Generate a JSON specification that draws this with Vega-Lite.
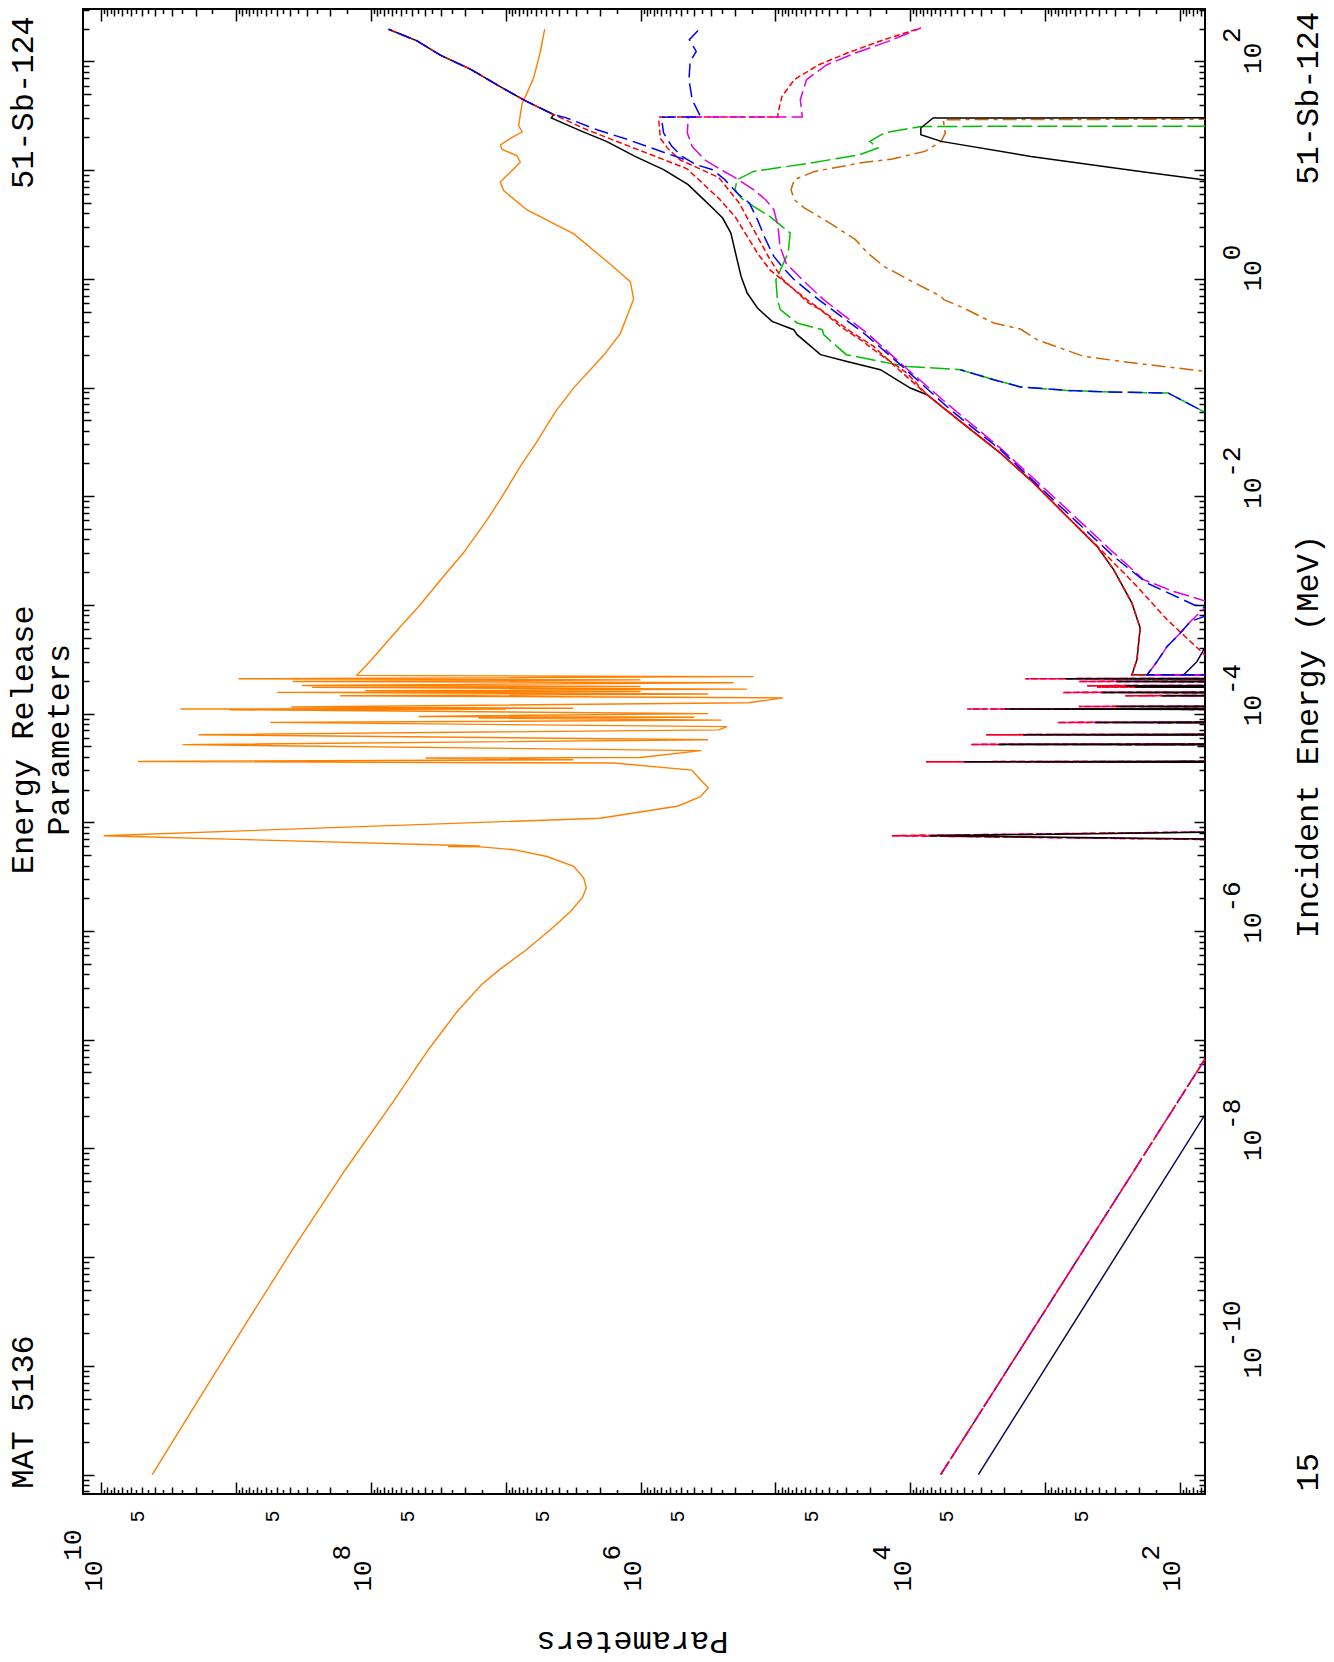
{
"$schema": "https://vega.github.io/schema/vega-lite/v6.json",
"width": 1122,
"height": 1485,
"autosize": "none",
"padding": {"left": 83, "top": 9, "right": 129, "bottom": 168},
"background": "white",
"config": {
 "view": {"stroke": "black", "strokeWidth": 2},
 "axis": {"labelFont": "Liberation Mono", "titleFont": "Liberation Mono", "labelColor": "black", "titleColor": "black", "tickColor": "black", "tickWidth": 1.5, "grid": false, "domain": false, "labelOverlap": false, "labelFlush": false, "labelBound": false, "labelLimit": 1000, "titleFontWeight": "normal", "labelFontWeight": "normal"}
},
"data": {"values": [
{"s":"o1","c":"orange","E":1e-11,"P":4.19e9},
{"s":"o1","c":"orange","E":4.88e-11,"P":1.90e9},
{"s":"o1","c":"orange","E":2.655e-10,"P":8.11e8},
{"s":"o1","c":"orange","E":1.22e-9,"P":3.74e8},
{"s":"o1","c":"orange","E":6.368e-9,"P":1.549e8},
{"s":"o1","c":"orange","E":2.72e-8,"P":6.79e7},
{"s":"o1","c":"orange","E":8.091e-8,"P":3.75e7},
{"s":"o1","c":"orange","E":1.81e-7,"P":2.30e7},
{"s":"o1","c":"orange","E":3.206e-7,"P":1.517e7},
{"s":"o1","c":"orange","E":4.46e-7,"P":1.10e7},
{"s":"o1","c":"orange","E":6.73e-7,"P":7.031e6},
{"s":"o1","c":"orange","E":1.028e-6,"P":4.667e6},
{"s":"o1","c":"orange","E":1.507e-6,"P":3.319e6},
{"s":"o1","c":"orange","E":2.023e-6,"P":2.704e6},
{"s":"o1","c":"orange","E":2.50e-6,"P":2.523e6},
{"s":"o1","c":"orange","E":3.07e-6,"P":2.64e6},
{"s":"o1","c":"orange","E":3.93e-6,"P":3.13e6},
{"s":"o1","c":"orange","E":4.85e-6,"P":4.94e6},
{"s":"o1","c":"orange","E":5.60e-6,"P":8.73e6},
{"s":"o1","c":"orange","E":5.94e-6,"P":1.54e7},
{"s":"o1","c":"orange","E":6.00e-6,"P":2.68e7},
{"s":"o1","c":"orange","E":6.05e-6,"P":1.55e7},
{"s":"o1","c":"orange","E":7.53e-6,"P":9.62e9},
{"s":"o1","c":"orange","E":1.09e-5,"P":1.99e6},
{"s":"o1","c":"orange","E":1.413e-5,"P":5.25e5},
{"s":"o1","c":"orange","E":1.72e-5,"P":3.60e5},
{"s":"o1","c":"orange","E":2.08e-5,"P":3.14e5},
{"s":"o1","c":"orange","E":2.46e-5,"P":3.60e5},
{"s":"o1","c":"orange","E":3.02e-5,"P":4.17e5},
{"s":"o1","c":"orange","E":3.51e-5,"P":1.58e6},
{"s":"o1","c":"orange","E":3.63e-5,"P":5.35e9},
{"s":"o1","c":"orange","E":3.76e-5,"P":3.16e6},
{"s":"o1","c":"orange","E":3.90e-5,"P":3.94e7},
{"s":"o1","c":"orange","E":3.95e-5,"P":1.00e6},
{"s":"o1","c":"orange","E":4.57e-5,"P":3.55e5},
{"s":"o1","c":"orange","E":5.18e-5,"P":2.49e9},
{"s":"o1","c":"orange","E":5.75e-5,"P":3.16e5},
{"s":"o1","c":"orange","E":6.40e-5,"P":1.90e9},
{"s":"o1","c":"orange","E":7.08e-5,"P":2.63e5},
{"s":"o1","c":"orange","E":7.59e-5,"P":2.29e5},
{"s":"o1","c":"orange","E":8.30e-5,"P":5.57e8},
{"s":"o1","c":"orange","E":8.71e-5,"P":2.51e5},
{"s":"o1","c":"orange","E":9.12e-5,"P":1.59e7},
{"s":"o1","c":"orange","E":9.27e-5,"P":3.98e5},
{"s":"o1","c":"orange","E":9.42e-5,"P":4.43e7},
{"s":"o1","c":"orange","E":1.000e-4,"P":3.16e5},
{"s":"o1","c":"orange","E":1.086e-4,"P":1.12e9},
{"s":"o1","c":"orange","E":1.094e-4,"P":1.00e7},
{"s":"o1","c":"orange","E":1.102e-4,"P":2.59e9},
{"s":"o1","c":"orange","E":1.122e-4,"P":3.16e6},
{"s":"o1","c":"orange","E":1.151e-4,"P":3.90e8},
{"s":"o1","c":"orange","E":1.259e-4,"P":1.58e5},
{"s":"o1","c":"orange","E":1.396e-4,"P":8.77e4},
{"s":"o1","c":"orange","E":1.462e-4,"P":1.69e8},
{"s":"o1","c":"orange","E":1.514e-4,"P":3.16e5},
{"s":"o1","c":"orange","E":1.567e-4,"P":4.98e8},
{"s":"o1","c":"orange","E":1.596e-4,"P":1.00e6},
{"s":"o1","c":"orange","E":1.626e-4,"P":1.10e8},
{"s":"o1","c":"orange","E":1.679e-4,"P":1.62e5},
{"s":"o1","c":"orange","E":1.742e-4,"P":2.74e8},
{"s":"o1","c":"orange","E":1.778e-4,"P":1.00e6},
{"s":"o1","c":"orange","E":1.816e-4,"P":3.24e8},
{"s":"o1","c":"orange","E":1.923e-4,"P":2.04e5},
{"s":"o1","c":"orange","E":1.977e-4,"P":3.81e8},
{"s":"o1","c":"orange","E":2.042e-4,"P":1.00e6},
{"s":"o1","c":"orange","E":2.094e-4,"P":9.57e8},
{"s":"o1","c":"orange","E":2.188e-4,"P":1.45e5},
{"s":"o1","c":"orange","E":2.249e-4,"P":1.27e8},
{"s":"o1","c":"orange","E":3.05e-4,"P":1.01e8},
{"s":"o1","c":"orange","E":6.07e-4,"P":6.22e7},
{"s":"o1","c":"orange","E":1.005e-3,"P":4.31e7},
{"s":"o1","c":"orange","E":2.00e-3,"P":2.73e7},
{"s":"o1","c":"orange","E":3.03e-3,"P":2.05e7},
{"s":"o1","c":"orange","E":6.03e-3,"P":1.38e7},
{"s":"o1","c":"orange","E":1.00e-2,"P":1.06e7},
{"s":"o1","c":"orange","E":1.99e-2,"P":7.57e6},
{"s":"o1","c":"orange","E":3.01e-2,"P":6.03e6},
{"s":"o1","c":"orange","E":5.98e-2,"P":4.29e6},
{"s":"o1","c":"orange","E":9.93e-2,"P":3.13e6},
{"s":"o1","c":"orange","E":0.1977,"P":1.88e6},
{"s":"o1","c":"orange","E":0.3133,"P":1.413e6},
{"s":"o1","c":"orange","E":0.6531,"P":1.125e6},
{"s":"o1","c":"orange","E":0.9419,"P":1.191e6},
{"s":"o1","c":"orange","E":1.361,"P":1.675e6},
{"s":"o1","c":"orange","E":2.588,"P":3.13e6},
{"s":"o1","c":"orange","E":4.295,"P":6.95e6},
{"s":"o1","c":"orange","E":6.486,"P":1.038e7},
{"s":"o1","c":"orange","E":7.798,"P":1.096e7},
{"s":"o1","c":"orange","E":8.954,"P":9.772e6},
{"s":"o1","c":"orange","E":11.80,"P":7.798e6},
{"s":"o1","c":"orange","E":13.55,"P":8.241e6},
{"s":"o1","c":"orange","E":15.52,"P":1.064e7},
{"s":"o1","c":"orange","E":17.02,"P":1.096e7},
{"s":"o1","c":"orange","E":19.54,"P":9.247e6},
{"s":"o1","c":"orange","E":22.39,"P":7.568e6},
{"s":"o1","c":"orange","E":25.70,"P":8.017e6},
{"s":"o1","c":"orange","E":32.43,"P":7.798e6},
{"s":"o1","c":"orange","E":40.74,"P":7.568e6},
{"s":"o1","c":"orange","E":51.29,"P":6.95e6},
{"s":"o1","c":"orange","E":70.63,"P":6.209e6},
{"s":"o1","c":"orange","E":122.7,"P":5.534e6},
{"s":"o1","c":"orange","E":197.7,"P":5.14e6},

{"s":"k1","c":"navy","E":1e-11,"P":3120},
{"s":"k1","c":"navy","E":2.07e-8,"P":64.6},
{"s":"k1","c":"navy","E":1e-7,"P":29.4},
{"s":"k4","c":"navy","E":2.259e-4,"P":10},
{"s":"k4","c":"navy","E":2.280e-4,"P":93.5},
{"s":"k4","c":"navy","E":3.02e-4,"P":74.5},
{"s":"k4","c":"navy","E":3.873e-4,"P":66.5},
{"s":"k4","c":"navy","E":4.5e-4,"P":50},

{"s":"k2","c":"black","E":6.84e-6,"P":10},
{"s":"k2","c":"black","E":7.53e-6,"P":7160},
{"s":"k2","c":"black","E":8.32e-6,"P":10},
{"s":"k2","c":"black","E":3.56e-5,"P":10},
{"s":"k2","c":"black","E":3.61e-5,"P":3980},
{"s":"k2","c":"black","E":3.65e-5,"P":10},
{"s":"k2","c":"black","E":5.15e-5,"P":10},
{"s":"k2","c":"black","E":5.21e-5,"P":2239},
{"s":"k2","c":"black","E":5.27e-5,"P":10},
{"s":"k2","c":"black","E":6.32e-5,"P":10},
{"s":"k2","c":"black","E":6.40e-5,"P":1445},
{"s":"k2","c":"black","E":6.47e-5,"P":10},
{"s":"k2","c":"black","E":8.20e-5,"P":10},
{"s":"k2","c":"black","E":8.30e-5,"P":422.7},
{"s":"k2","c":"black","E":8.40e-5,"P":10},
{"s":"k2","c":"black","E":1.089e-4,"P":10},
{"s":"k2","c":"black","E":1.102e-4,"P":1968},
{"s":"k2","c":"black","E":1.114e-4,"P":10},
{"s":"k2","c":"black","E":1.151e-4,"P":10},
{"s":"k2","c":"black","E":1.164e-4,"P":295},
{"s":"k2","c":"black","E":1.178e-4,"P":10},
{"s":"k2","c":"black","E":1.445e-4,"P":10},
{"s":"k2","c":"black","E":1.462e-4,"P":134.9},
{"s":"k2","c":"black","E":1.479e-4,"P":10},
{"s":"k2","c":"black","E":1.549e-4,"P":10},
{"s":"k2","c":"black","E":1.567e-4,"P":377.6},
{"s":"k2","c":"black","E":1.585e-4,"P":10},
{"s":"k2","c":"black","E":1.738e-4,"P":10},
{"s":"k2","c":"black","E":1.758e-4,"P":213.8},
{"s":"k2","c":"black","E":1.778e-4,"P":10},
{"s":"k2","c":"black","E":1.791e-4,"P":10},
{"s":"k2","c":"black","E":1.807e-4,"P":251},
{"s":"k2","c":"black","E":1.824e-4,"P":10},
{"s":"k2","c":"black","E":1.954e-4,"P":10},
{"s":"k2","c":"black","E":1.977e-4,"P":295},
{"s":"k2","c":"black","E":2.000e-4,"P":10},
{"s":"k2","c":"black","E":2.070e-4,"P":10},
{"s":"k2","c":"black","E":2.094e-4,"P":708},
{"s":"k2","c":"black","E":2.118e-4,"P":10},
{"s":"k2","c":"black","E":2.259e-4,"P":10},
{"s":"k2","c":"black","E":2.280e-4,"P":226.5},
{"s":"k2","c":"black","E":3.133e-4,"P":208},
{"s":"k2","c":"black","E":6.124e-4,"P":196.8},
{"s":"k2","c":"black","E":1.040e-3,"P":226.5},
{"s":"k2","c":"black","E":2.109e-3,"P":309.7},
{"s":"k2","c":"black","E":3.451e-3,"P":411},
{"s":"k2","c":"black","E":6.516e-3,"P":687},
{"s":"k2","c":"black","E":1.321e-2,"P":1213},
{"s":"k2","c":"black","E":2.495e-2,"P":2143},
{"s":"k2","c":"black","E":4.875e-2,"P":4246},
{"s":"k2","c":"black","E":8.590e-2,"P":7499},
{"s":"k2","c":"black","E":9.886e-2,"P":9977},
{"s":"k2","c":"black","E":0.1459,"P":1.663e4},
{"s":"k2","c":"black","E":0.1738,"P":2.944e4},
{"s":"k2","c":"black","E":0.2004,"P":4.624e4},
{"s":"k2","c":"black","E":0.3062,"P":6.902e4},
{"s":"k2","c":"black","E":0.3404,"P":7.311e4},
{"s":"k2","c":"black","E":0.4055,"P":1.057e5},
{"s":"k2","c":"black","E":0.5383,"P":1.358e5},
{"s":"k2","c":"black","E":0.7396,"P":1.618e5},
{"s":"k2","c":"black","E":1.052,"P":1.795e5},
{"s":"k2","c":"black","E":1.500,"P":1.923e5},
{"s":"k2","c":"black","E":2.636,"P":2.138e5},
{"s":"k2","c":"black","E":3.622,"P":2.46e5},
{"s":"k2","c":"black","E":4.477,"P":2.924e5},
{"s":"k2","c":"black","E":5.728,"P":3.597e5},
{"s":"k2","c":"black","E":7.345,"P":4.436e5},
{"s":"k2","c":"black","E":10.09,"P":6.745e5},
{"s":"k2","c":"black","E":13.37,"P":1.099e6},
{"s":"k2","c":"black","E":18.37,"P":1.791e6},
{"s":"k2","c":"black","E":22.70,"P":2.723e6},
{"s":"k2","c":"black","E":30.13,"P":4.592e6},
{"s":"k2","c":"black","E":32.43,"P":4.416e6},
{"s":"k2","c":"black","E":42.66,"P":6.95e6},
{"s":"k2","c":"black","E":56.23,"P":1.038e7},
{"s":"k2","c":"black","E":84.92,"P":1.832e7},
{"s":"k2","c":"black","E":114.0,"P":3.055e7},
{"s":"k2","c":"black","E":154.5,"P":4.55e7},
{"s":"k2","c":"black","E":197.7,"P":7.413e7},

{"s":"k3","c":"black","E":7.079,"P":31.6},
{"s":"k3","c":"black","E":8.017,"P":61.5},
{"s":"k3","c":"black","E":9.727,"P":196.3},
{"s":"k3","c":"black","E":13.37,"P":1271},
{"s":"k3","c":"black","E":18.37,"P":5888},
{"s":"k3","c":"black","E":21.18,"P":8337},
{"s":"k3","c":"black","E":24.38,"P":8337},
{"s":"k3","c":"black","E":30.13,"P":6761},
{"s":"k3","c":"black","E":30.27,"P":10},

{"s":"r1","c":"red","E":1e-11,"P":5930},
{"s":"r1","c":"red","E":6.55e-8,"P":65.5},
{"s":"r1","c":"red","E":1.585e-7,"P":41.6},

{"s":"r2a","c":"redlow","E":6.761e-6,"P":10},
{"s":"r2a","c":"redlow","E":7.53e-6,"P":1.365e4},
{"s":"r2a","c":"redlow","E":8.395e-6,"P":10},
{"s":"r2a","c":"redlow","E":3.56e-5,"P":10},
{"s":"r2a","c":"redlow","E":3.61e-5,"P":7638},
{"s":"r2a","c":"redlow","E":3.65e-5,"P":10},
{"s":"r2a","c":"redlow","E":5.15e-5,"P":10},
{"s":"r2a","c":"redlow","E":5.21e-5,"P":3540},
{"s":"r2a","c":"redlow","E":5.27e-5,"P":10},
{"s":"r2a","c":"redlow","E":6.32e-5,"P":10},
{"s":"r2a","c":"redlow","E":6.40e-5,"P":2729},
{"s":"r2a","c":"redlow","E":6.47e-5,"P":10},
{"s":"r2a","c":"redlow","E":8.20e-5,"P":10},
{"s":"r2a","c":"redlow","E":8.30e-5,"P":805.4},
{"s":"r2a","c":"redlow","E":8.40e-5,"P":10},
{"s":"r2a","c":"redlow","E":1.089e-4,"P":10},
{"s":"r2a","c":"redlow","E":1.102e-4,"P":3784},
{"s":"r2a","c":"redlow","E":1.114e-4,"P":10},
{"s":"r2a","c":"redlow","E":1.151e-4,"P":10},
{"s":"r2a","c":"redlow","E":1.164e-4,"P":561},
{"s":"r2a","c":"redlow","E":1.178e-4,"P":10},
{"s":"r2a","c":"redlow","E":1.445e-4,"P":10},
{"s":"r2a","c":"redlow","E":1.462e-4,"P":253.5},
{"s":"r2a","c":"redlow","E":1.479e-4,"P":10},
{"s":"r2a","c":"redlow","E":1.549e-4,"P":10},
{"s":"r2a","c":"redlow","E":1.567e-4,"P":736.2},
{"s":"r2a","c":"redlow","E":1.585e-4,"P":10},
{"s":"r2a","c":"redlow","E":1.738e-4,"P":10},
{"s":"r2a","c":"redlow","E":1.758e-4,"P":411.1},
{"s":"r2a","c":"redlow","E":1.778e-4,"P":10},
{"s":"r2a","c":"redlow","E":1.791e-4,"P":10},
{"s":"r2a","c":"redlow","E":1.807e-4,"P":487.5},
{"s":"r2a","c":"redlow","E":1.824e-4,"P":10},
{"s":"r2a","c":"redlow","E":1.954e-4,"P":10},
{"s":"r2a","c":"redlow","E":1.977e-4,"P":561},
{"s":"r2a","c":"redlow","E":2.000e-4,"P":10},
{"s":"r2a","c":"redlow","E":2.070e-4,"P":10},
{"s":"r2a","c":"redlow","E":2.094e-4,"P":1396},
{"s":"r2a","c":"redlow","E":2.118e-4,"P":10},

{"s":"r2","c":"red","E":2.259e-4,"P":10},
{"s":"r2","c":"red","E":2.280e-4,"P":226.5},
{"s":"r2","c":"red","E":3.133e-4,"P":208},
{"s":"r2","c":"red","E":6.124e-4,"P":196.8},
{"s":"r2","c":"red","E":1.040e-3,"P":226.5},
{"s":"r2","c":"red","E":2.109e-3,"P":309.7},
{"s":"r2","c":"red","E":3.451e-3,"P":411},
{"s":"r2","c":"red","E":6.516e-3,"P":687},
{"s":"r2","c":"red","E":1.321e-2,"P":1213},
{"s":"r2","c":"red","E":2.495e-2,"P":2143},
{"s":"r2","c":"red","E":4.875e-2,"P":4246},
{"s":"r2","c":"red","E":8.590e-2,"P":7499},
{"s":"r2","c":"red","E":0.1679,"P":1.380e4},
{"s":"r2","c":"red","E":0.2388,"P":1.866e4},
{"s":"r2","c":"red","E":0.3281,"P":2.780e4},
{"s":"r2","c":"red","E":0.4207,"P":3.648e4},
{"s":"r2","c":"red","E":0.6427,"P":5.821e4},
{"s":"r2","c":"red","E":0.9141,"P":8.337e4},
{"s":"r2","c":"red","E":1.213,"P":1.102e5},
{"s":"r2","c":"red","E":1.726,"P":1.358e5},
{"s":"r2","c":"red","E":2.636,"P":1.675e5},
{"s":"r2","c":"red","E":3.750,"P":1.995e5},
{"s":"r2","c":"red","E":5.495,"P":2.630e5},
{"s":"r2","c":"red","E":10.28,"P":4.519e5},
{"s":"r2","c":"red","E":13.55,"P":7.980e5},
{"s":"r2","c":"red","E":17.82,"P":1.413e6},
{"s":"r2","c":"red","E":23.50,"P":2.495e6},
{"s":"r2","c":"red","E":30.41,"P":3.936e6},
{"s":"r2","c":"red","E":32.43,"P":4.416e6},
{"s":"r2","c":"red","E":42.66,"P":6.95e6},
{"s":"r2","c":"red","E":56.23,"P":1.038e7},
{"s":"r2","c":"red","E":84.92,"P":1.832e7},
{"s":"r2","c":"red","E":114.0,"P":3.055e7},
{"s":"r2","c":"red","E":154.5,"P":4.55e7},
{"s":"r2","c":"red","E":197.7,"P":7.413e7},

{"s":"r3","c":"red","E":1.995e-4,"P":39.8},
{"s":"r3","c":"red","E":3.357e-4,"P":63.5},
{"s":"r3","c":"red","E":7.311e-4,"P":124.2},
{"s":"r3","c":"red","E":1.592e-3,"P":219.3},
{"s":"r3","c":"red","E":3.981e-3,"P":457.1},
{"s":"r3","c":"red","E":6.516e-3,"P":687},
{"s":"r3","c":"red","E":1.321e-2,"P":1213},
{"s":"r3","c":"red","E":2.495e-2,"P":2143},
{"s":"r3","c":"red","E":4.875e-2,"P":4246},
{"s":"r3","c":"red","E":8.590e-2,"P":7499},
{"s":"r3","c":"red","E":0.1358,"P":1.057e4},
{"s":"r3","c":"red","E":0.1679,"P":1.349e4},
{"s":"r3","c":"red","E":0.2004,"P":1.663e4},
{"s":"r3","c":"red","E":0.2754,"P":2.339e4},
{"s":"r3","c":"red","E":0.3648,"P":3.296e4},
{"s":"r3","c":"red","E":0.5200,"P":4.634e4},
{"s":"r3","c":"red","E":0.5984,"P":5.662e4},
{"s":"r3","c":"red","E":1.000,"P":8.913e4},
{"s":"r3","c":"red","E":1.585,"P":1.122e5},
{"s":"r3","c":"red","E":2.818,"P":1.445e5},
{"s":"r3","c":"red","E":5.012,"P":1.862e5},
{"s":"r3","c":"red","E":8.551,"P":2.630e5},
{"s":"r3","c":"red","E":11.25,"P":4.276e5},
{"s":"r3","c":"red","E":12.36,"P":5.070e5},
{"s":"r3","c":"red","E":15.52,"P":6.194e5},
{"s":"r3","c":"red","E":19.54,"P":7.129e5},
{"s":"r3","c":"red","E":29.51,"P":7.345e5},
{"s":"r3","c":"red","E":30.76,"P":7.228e5},
{"s":"r3","c":"red","E":30.81,"P":9.572e4},
{"s":"r3","c":"red","E":33.50,"P":9.572e4},
{"s":"r3","c":"red","E":47.64,"P":8.933e4},
{"s":"r3","c":"red","E":67.92,"P":7.244e4},
{"s":"r3","c":"red","E":93.11,"P":4.764e4},
{"s":"r3","c":"red","E":119.4,"P":2.931e4},
{"s":"r3","c":"red","E":158.5,"P":1.563e4},
{"s":"r3","c":"red","E":202.8,"P":8337},

{"s":"m2","c":"maglow","E":1e-11,"P":5930},
{"s":"m2","c":"maglow","E":6.55e-8,"P":65.5},
{"s":"m2","c":"maglow","E":1.585e-7,"P":41.6},

{"s":"m1a","c":"maglow","E":6.761e-6,"P":10},
{"s":"m1a","c":"maglow","E":7.53e-6,"P":1.365e4},
{"s":"m1a","c":"maglow","E":8.395e-6,"P":10},
{"s":"m1a","c":"maglow","E":3.56e-5,"P":10},
{"s":"m1a","c":"maglow","E":3.61e-5,"P":7638},
{"s":"m1a","c":"maglow","E":3.65e-5,"P":10},
{"s":"m1a","c":"maglow","E":5.15e-5,"P":10},
{"s":"m1a","c":"maglow","E":5.21e-5,"P":3540},
{"s":"m1a","c":"maglow","E":5.27e-5,"P":10},
{"s":"m1a","c":"maglow","E":6.32e-5,"P":10},
{"s":"m1a","c":"maglow","E":6.40e-5,"P":2729},
{"s":"m1a","c":"maglow","E":6.47e-5,"P":10},
{"s":"m1a","c":"maglow","E":8.20e-5,"P":10},
{"s":"m1a","c":"maglow","E":8.30e-5,"P":805.4},
{"s":"m1a","c":"maglow","E":8.40e-5,"P":10},
{"s":"m1a","c":"maglow","E":1.089e-4,"P":10},
{"s":"m1a","c":"maglow","E":1.102e-4,"P":3784},
{"s":"m1a","c":"maglow","E":1.114e-4,"P":10},
{"s":"m1a","c":"maglow","E":1.151e-4,"P":10},
{"s":"m1a","c":"maglow","E":1.164e-4,"P":561},
{"s":"m1a","c":"maglow","E":1.178e-4,"P":10},
{"s":"m1a","c":"maglow","E":1.445e-4,"P":10},
{"s":"m1a","c":"maglow","E":1.462e-4,"P":253.5},
{"s":"m1a","c":"maglow","E":1.479e-4,"P":10},
{"s":"m1a","c":"maglow","E":1.549e-4,"P":10},
{"s":"m1a","c":"maglow","E":1.567e-4,"P":736.2},
{"s":"m1a","c":"maglow","E":1.585e-4,"P":10},
{"s":"m1a","c":"maglow","E":1.738e-4,"P":10},
{"s":"m1a","c":"maglow","E":1.758e-4,"P":411.1},
{"s":"m1a","c":"maglow","E":1.778e-4,"P":10},
{"s":"m1a","c":"maglow","E":1.791e-4,"P":10},
{"s":"m1a","c":"maglow","E":1.807e-4,"P":487.5},
{"s":"m1a","c":"maglow","E":1.824e-4,"P":10},
{"s":"m1a","c":"maglow","E":1.954e-4,"P":10},
{"s":"m1a","c":"maglow","E":1.977e-4,"P":561},
{"s":"m1a","c":"maglow","E":2.000e-4,"P":10},
{"s":"m1a","c":"maglow","E":2.070e-4,"P":10},
{"s":"m1a","c":"maglow","E":2.094e-4,"P":1396},
{"s":"m1a","c":"maglow","E":2.118e-4,"P":10},

{"s":"m1","c":"magenta","E":2.259e-4,"P":10},
{"s":"m1","c":"magenta","E":2.280e-4,"P":174.6},
{"s":"m1","c":"magenta","E":3.020e-4,"P":147.2},
{"s":"m1","c":"magenta","E":4.150e-4,"P":124.2},
{"s":"m1","c":"magenta","E":5.508e-4,"P":99.1},
{"s":"m1","c":"magenta","E":7.047e-4,"P":83.4},
{"s":"m1","c":"magenta","E":9.683e-4,"P":63.5},
{"s":"m1","c":"magenta","E":1.023e-3,"P":55.0},
{"s":"m1","c":"magenta","E":1.076e-3,"P":63.5},
{"s":"m1","c":"magenta","E":1.330e-3,"P":110.9},
{"s":"m1","c":"magenta","E":1.706e-3,"P":185.4},
{"s":"m1","c":"magenta","E":3.221e-3,"P":327.3},
{"s":"m1","c":"magenta","E":8.650e-3,"P":769.1},
{"s":"m1","c":"magenta","E":2.773e-2,"P":2143},
{"s":"m1","c":"magenta","E":6.699e-2,"P":5035},
{"s":"m1","c":"magenta","E":0.1679,"P":1.183e4},
{"s":"m1","c":"magenta","E":0.3170,"P":2.089e4},
{"s":"m1","c":"magenta","E":0.6427,"P":4.385e4},
{"s":"m1","c":"magenta","E":0.9817,"P":6.310e4},
{"s":"m1","c":"magenta","E":1.396,"P":8.337e4},
{"s":"m1","c":"magenta","E":1.986,"P":9.247e4},
{"s":"m1","c":"magenta","E":3.034,"P":9.572e4},
{"s":"m1","c":"magenta","E":4.325,"P":1.026e5},
{"s":"m1","c":"magenta","E":5.346,"P":1.180e5},
{"s":"m1","c":"magenta","E":6.607,"P":1.452e5},
{"s":"m1","c":"magenta","E":8.750,"P":2.061e5},
{"s":"m1","c":"magenta","E":10.09,"P":2.541e5},
{"s":"m1","c":"magenta","E":12.47,"P":3.357e5},
{"s":"m1","c":"magenta","E":16.52,"P":4.140e5},
{"s":"m1","c":"magenta","E":21.93,"P":4.498e5},
{"s":"m1","c":"magenta","E":30.13,"P":4.436e5},
{"s":"m1","c":"magenta","E":30.78,"P":4.436e5},
{"s":"m1","c":"magenta","E":30.82,"P":6.310e4},
{"s":"m1","c":"magenta","E":44.46,"P":6.531e4},
{"s":"m1","c":"magenta","E":67.92,"P":5.875e4},
{"s":"m1","c":"magenta","E":93.11,"P":4.150e4},
{"s":"m1","c":"magenta","E":119.4,"P":2.547e4},
{"s":"m1","c":"magenta","E":152.8,"P":1.455e4},
{"s":"m1","c":"magenta","E":202.8,"P":8337},

{"s":"b4","c":"bluelow","E":1e-11,"P":5930},
{"s":"b4","c":"bluelow","E":6.55e-8,"P":65.5},
{"s":"b4","c":"bluelow","E":1.585e-7,"P":41.6},

{"s":"b1","c":"blue","E":2.259e-4,"P":10},
{"s":"b1","c":"blue","E":2.280e-4,"P":174.6},
{"s":"b1","c":"blue","E":3.020e-4,"P":147.2},
{"s":"b1","c":"blue","E":4.150e-4,"P":124.2},
{"s":"b1","c":"blue","E":5.508e-4,"P":99.1},
{"s":"b1","c":"blue","E":7.047e-4,"P":83.4},
{"s":"b1","c":"blue","E":8.318e-4,"P":57.5},
{"s":"b1","c":"blue","E":8.913e-4,"P":56.2},
{"s":"b1","c":"blue","E":9.354e-4,"P":63.5},
{"s":"b1","c":"blue","E":1.005e-3,"P":78.9},
{"s":"b1","c":"blue","E":1.589e-3,"P":175.4},
{"s":"b1","c":"blue","E":2.793e-3,"P":309.7},
{"s":"b1","c":"blue","E":8.054e-3,"P":769.1},
{"s":"b1","c":"blue","E":2.679e-2,"P":2143},
{"s":"b1","c":"blue","E":6.252e-2,"P":5035},
{"s":"b1","c":"blue","E":0.1622,"P":1.183e4},
{"s":"b1","c":"blue","E":0.3170,"P":2.213e4},
{"s":"b1","c":"blue","E":0.6427,"P":4.775e4},
{"s":"b1","c":"blue","E":0.9817,"P":7.244e4},
{"s":"b1","c":"blue","E":1.300,"P":8.933e4},
{"s":"b1","c":"blue","E":1.607,"P":1.026e5},
{"s":"b1","c":"blue","E":2.291,"P":1.180e5},
{"s":"b1","c":"blue","E":3.499,"P":1.358e5},
{"s":"b1","c":"blue","E":4.977,"P":1.560e5},
{"s":"b1","c":"blue","E":6.152,"P":1.923e5},
{"s":"b1","c":"blue","E":8.166,"P":2.371e5},
{"s":"b1","c":"blue","E":10.09,"P":2.924e5},
{"s":"b1","c":"blue","E":11.22,"P":3.864e5},
{"s":"b1","c":"blue","E":13.37,"P":4.932e5},
{"s":"b1","c":"blue","E":16.52,"P":5.861e5},
{"s":"b1","c":"blue","E":21.93,"P":6.745e5},
{"s":"b1","c":"blue","E":29.51,"P":6.982e5},
{"s":"b1","c":"blue","E":30.71,"P":6.982e5},
{"s":"b1","c":"blue","E":30.74,"P":3.631e5},
{"s":"b1","c":"blue","E":31.19,"P":3.597e5},
{"s":"b1","c":"blue","E":44.46,"P":4.140e5},
{"s":"b1","c":"blue","E":67.92,"P":4.375e5},
{"s":"b1","c":"blue","E":100.0,"P":4.285e5},
{"s":"b1","c":"blue","E":123.6,"P":3.864e5},
{"s":"b1","c":"blue","E":158.5,"P":4.345e5},
{"s":"b1","c":"blue","E":198.6,"P":3.648e5},

{"s":"b2","c":"blue","E":12.59,"P":4.786e5},
{"s":"b2","c":"blue","E":14.59,"P":6.745e5},
{"s":"b2","c":"blue","E":19.19,"P":1.259e6},
{"s":"b2","c":"blue","E":23.50,"P":2.104e6},
{"s":"b2","c":"blue","E":30.41,"P":3.597e6},
{"s":"b2","c":"blue","E":32.43,"P":4.416e6},
{"s":"b2","c":"blue","E":42.66,"P":6.95e6},
{"s":"b2","c":"blue","E":56.23,"P":1.038e7},
{"s":"b2","c":"blue","E":84.92,"P":1.832e7},
{"s":"b2","c":"blue","E":114.0,"P":3.055e7},
{"s":"b2","c":"blue","E":154.5,"P":4.55e7},
{"s":"b2","c":"blue","E":197.7,"P":7.413e7},

{"s":"b3","c":"blue","E":5.012e-2,"P":55.0},
{"s":"b3","c":"blue","E":5.821e-2,"P":63.5},
{"s":"b3","c":"blue","E":8.892e-2,"P":121.9},
{"s":"b3","c":"blue","E":9.141e-2,"P":388.2},
{"s":"b3","c":"blue","E":9.397e-2,"P":687},
{"s":"b3","c":"blue","E":0.1012,"P":1521},
{"s":"b3","c":"blue","E":0.1180,"P":2399},
{"s":"b3","c":"blue","E":0.1459,"P":4246},

{"s":"g1","c":"green","E":5.012e-2,"P":55.0},
{"s":"g1","c":"green","E":5.821e-2,"P":63.5},
{"s":"g1","c":"green","E":8.892e-2,"P":121.9},
{"s":"g1","c":"green","E":9.141e-2,"P":388.2},
{"s":"g1","c":"green","E":9.397e-2,"P":687},
{"s":"g1","c":"green","E":0.1012,"P":1521},
{"s":"g1","c":"green","E":0.1180,"P":2399},
{"s":"g1","c":"green","E":0.1459,"P":4246},
{"s":"g1","c":"green","E":0.1563,"P":1.057e4},
{"s":"g1","c":"green","E":0.1738,"P":1.663e4},
{"s":"g1","c":"green","E":0.2004,"P":2.979e4},
{"s":"g1","c":"green","E":0.3062,"P":4.385e4},
{"s":"g1","c":"green","E":0.3404,"P":4.477e4},
{"s":"g1","c":"green","E":0.3917,"P":6.902e4},
{"s":"g1","c":"green","E":0.5200,"P":9.183e4},
{"s":"g1","c":"green","E":0.6427,"P":9.661e4},
{"s":"g1","c":"green","E":0.9817,"P":9.908e4},
{"s":"g1","c":"green","E":1.300,"P":8.933e4},
{"s":"g1","c":"green","E":1.726,"P":8.035e4},
{"s":"g1","c":"green","E":2.636,"P":7.762e4},
{"s":"g1","c":"green","E":3.034,"P":8.933e4},
{"s":"g1","c":"green","E":3.750,"P":1.102e5},
{"s":"g1","c":"green","E":4.634,"P":1.452e5},
{"s":"g1","c":"green","E":5.534,"P":1.795e5},
{"s":"g1","c":"green","E":6.607,"P":1.991e5},
{"s":"g1","c":"green","E":8.166,"P":1.923e5},
{"s":"g1","c":"green","E":9.727,"P":1.452e5},
{"s":"g1","c":"green","E":11.61,"P":5.483e4},
{"s":"g1","c":"green","E":13.87,"P":2.371e4},
{"s":"g1","c":"green","E":15.96,"P":1.734e4},
{"s":"g1","c":"green","E":18.37,"P":1.995e4},
{"s":"g1","c":"green","E":21.93,"P":1.563e4},
{"s":"g1","c":"green","E":25.23,"P":8337},
{"s":"g1","c":"green","E":25.35,"P":10},

{"s":"br1","c":"brown","E":0.1259,"P":50.1},
{"s":"br1","c":"brown","E":0.1406,"P":63.5},
{"s":"br1","c":"brown","E":0.1679,"P":219.3},
{"s":"br1","c":"brown","E":0.1932,"P":516.4},
{"s":"br1","c":"brown","E":0.2754,"P":1146},
{"s":"br1","c":"brown","E":0.3451,"P":1521},
{"s":"br1","c":"brown","E":0.3917,"P":2399},
{"s":"br1","c":"brown","E":0.5383,"P":4009},
{"s":"br1","c":"brown","E":0.6427,"P":5636},
{"s":"br1","c":"brown","E":0.6887,"P":5888},
{"s":"br1","c":"brown","E":0.9817,"P":1.028e4},
{"s":"br1","c":"brown","E":1.300,"P":1.563e4},
{"s":"br1","c":"brown","E":1.726,"P":2.065e4},
{"s":"br1","c":"brown","E":2.291,"P":2.547e4},
{"s":"br1","c":"brown","E":3.034,"P":3.606e4},
{"s":"br1","c":"brown","E":3.750,"P":4.764e4},
{"s":"br1","c":"brown","E":4.477,"P":6.081e4},
{"s":"br1","c":"brown","E":5.346,"P":7.244e4},
{"s":"br1","c":"brown","E":6.607,"P":7.656e4},
{"s":"br1","c":"brown","E":8.166,"P":7.244e4},
{"s":"br1","c":"brown","E":9.727,"P":5.105e4},
{"s":"br1","c":"brown","E":11.61,"P":2.371e4},
{"s":"br1","c":"brown","E":12.65,"P":1.358e4},
{"s":"br1","c":"brown","E":14.86,"P":7780},
{"s":"br1","c":"brown","E":18.37,"P":5888},
{"s":"br1","c":"brown","E":21.93,"P":5495},
{"s":"br1","c":"brown","E":29.11,"P":5689},
{"s":"br1","c":"brown","E":29.51,"P":10}
]},
"layer": [
 {"transform": [{"filter": "false"}], "mark": "point",
  "encoding": {
   "x": {"field": "P", "type": "quantitative", "scale": {"type": "log", "domain": [65.03, 1.367e10], "reverse": true, "nice": false},
    "axis": {"orient": "bottom", "title": null, "labels": false, "values": [70,75,80,85,90,95,1e2,1.5e2,2e2,2.5e2,3e2,3.5e2,4e2,4.5e2,5e2,5.5e2,6e2,6.5e2,7e2,7.5e2,8e2,8.5e2,9e2,9.5e2,1e3,1.5e3,2e3,2.5e3,3e3,3.5e3,4e3,4.5e3,5e3,5.5e3,6e3,6.5e3,7e3,7.5e3,8e3,8.5e3,9e3,9.5e3,1e4,1.5e4,2e4,2.5e4,3e4,3.5e4,4e4,4.5e4,5e4,5.5e4,6e4,6.5e4,7e4,7.5e4,8e4,8.5e4,9e4,9.5e4,1e5,1.5e5,2e5,2.5e5,3e5,3.5e5,4e5,4.5e5,5e5,5.5e5,6e5,6.5e5,7e5,7.5e5,8e5,8.5e5,9e5,9.5e5,1e6,1.5e6,2e6,2.5e6,3e6,3.5e6,4e6,4.5e6,5e6,5.5e6,6e6,6.5e6,7e6,7.5e6,8e6,8.5e6,9e6,9.5e6,1e7,1.5e7,2e7,2.5e7,3e7,3.5e7,4e7,4.5e7,5e7,5.5e7,6e7,6.5e7,7e7,7.5e7,8e7,8.5e7,9e7,9.5e7,1e8,1.5e8,2e8,2.5e8,3e8,3.5e8,4e8,4.5e8,5e8,5.5e8,6e8,6.5e8,7e8,7.5e8,8e8,8.5e8,9e8,9.5e8,1e9,1.5e9,2e9,2.5e9,3e9,3.5e9,4e9,4.5e9,5e9,5.5e9,6e9,6.5e9,7e9,7.5e9,8e9,8.5e9,9e9,9.5e9,1e10],
     "tickSize": {"condition": [{"test": "abs(log(datum.value)/LN10-round(log(datum.value)/LN10))<1e-6", "value": -12}, {"test": "abs(datum.value/pow(10,floor(log(datum.value)/LN10+1e-9))-round(datum.value/pow(10,floor(log(datum.value)/LN10+1e-9))))<1e-6", "value": -7}], "value": -4.5}}},
   "y": {"field": "E", "type": "quantitative", "scale": {"type": "log", "domain": [6.62e-12, 303.4], "nice": false},
    "axis": {"orient": "right", "title": null, "labels": false, "values": [7e-12,8e-12,9e-12,1e-11,2e-11,3e-11,4e-11,5e-11,6e-11,7e-11,8e-11,9e-11,1e-10,2e-10,3e-10,4e-10,5e-10,6e-10,7e-10,8e-10,9e-10,1e-9,2e-9,3e-9,4e-9,5e-9,6e-9,7e-9,8e-9,9e-9,1e-8,2e-8,3e-8,4e-8,5e-8,6e-8,7e-8,8e-8,9e-8,1e-7,2e-7,3e-7,4e-7,5e-7,6e-7,7e-7,8e-7,9e-7,1e-6,2e-6,3e-6,4e-6,5e-6,6e-6,7e-6,8e-6,9e-6,1e-5,2e-5,3e-5,4e-5,5e-5,6e-5,7e-5,8e-5,9e-5,1e-4,2e-4,3e-4,4e-4,5e-4,6e-4,7e-4,8e-4,9e-4,1e-3,2e-3,3e-3,4e-3,5e-3,6e-3,7e-3,8e-3,9e-3,1e-2,2e-2,3e-2,4e-2,5e-2,6e-2,7e-2,8e-2,9e-2,0.1,0.2,0.3,0.4,0.5,0.6,0.7,0.8,0.9,1,2,3,4,5,6,7,8,9,10,20,30,40,50,60,70,80,90,100,200,300],
     "tickSize": {"condition": [{"test": "abs(log(datum.value)/LN10-round(log(datum.value)/LN10))<1e-6", "value": -11}, {"test": "abs(datum.value/pow(10,floor(log(datum.value)/LN10+1e-9))-5)<1e-6", "value": -8}], "value": -6}}}
  }},
 {"transform": [{"filter": "false"}], "mark": "point",
  "encoding": {
   "x": {"field": "P", "type": "quantitative", "scale": {"type": "log", "domain": [65.03, 1.367e10], "reverse": true, "nice": false},
    "axis": {"orient": "top", "title": null, "labels": false, "values": [70,75,80,85,90,95,1e2,1.5e2,2e2,2.5e2,3e2,3.5e2,4e2,4.5e2,5e2,5.5e2,6e2,6.5e2,7e2,7.5e2,8e2,8.5e2,9e2,9.5e2,1e3,1.5e3,2e3,2.5e3,3e3,3.5e3,4e3,4.5e3,5e3,5.5e3,6e3,6.5e3,7e3,7.5e3,8e3,8.5e3,9e3,9.5e3,1e4,1.5e4,2e4,2.5e4,3e4,3.5e4,4e4,4.5e4,5e4,5.5e4,6e4,6.5e4,7e4,7.5e4,8e4,8.5e4,9e4,9.5e4,1e5,1.5e5,2e5,2.5e5,3e5,3.5e5,4e5,4.5e5,5e5,5.5e5,6e5,6.5e5,7e5,7.5e5,8e5,8.5e5,9e5,9.5e5,1e6,1.5e6,2e6,2.5e6,3e6,3.5e6,4e6,4.5e6,5e6,5.5e6,6e6,6.5e6,7e6,7.5e6,8e6,8.5e6,9e6,9.5e6,1e7,1.5e7,2e7,2.5e7,3e7,3.5e7,4e7,4.5e7,5e7,5.5e7,6e7,6.5e7,7e7,7.5e7,8e7,8.5e7,9e7,9.5e7,1e8,1.5e8,2e8,2.5e8,3e8,3.5e8,4e8,4.5e8,5e8,5.5e8,6e8,6.5e8,7e8,7.5e8,8e8,8.5e8,9e8,9.5e8,1e9,1.5e9,2e9,2.5e9,3e9,3.5e9,4e9,4.5e9,5e9,5.5e9,6e9,6.5e9,7e9,7.5e9,8e9,8.5e9,9e9,9.5e9,1e10],
     "tickSize": {"condition": [{"test": "abs(log(datum.value)/LN10-round(log(datum.value)/LN10))<1e-6", "value": -12}, {"test": "abs(datum.value/pow(10,floor(log(datum.value)/LN10+1e-9))-round(datum.value/pow(10,floor(log(datum.value)/LN10+1e-9))))<1e-6", "value": -7}], "value": -4.5}}},
   "y": {"field": "E", "type": "quantitative", "scale": {"type": "log", "domain": [6.62e-12, 303.4], "nice": false},
    "axis": {"orient": "left", "title": null, "labels": false, "values": [7e-12,8e-12,9e-12,1e-11,2e-11,3e-11,4e-11,5e-11,6e-11,7e-11,8e-11,9e-11,1e-10,2e-10,3e-10,4e-10,5e-10,6e-10,7e-10,8e-10,9e-10,1e-9,2e-9,3e-9,4e-9,5e-9,6e-9,7e-9,8e-9,9e-9,1e-8,2e-8,3e-8,4e-8,5e-8,6e-8,7e-8,8e-8,9e-8,1e-7,2e-7,3e-7,4e-7,5e-7,6e-7,7e-7,8e-7,9e-7,1e-6,2e-6,3e-6,4e-6,5e-6,6e-6,7e-6,8e-6,9e-6,1e-5,2e-5,3e-5,4e-5,5e-5,6e-5,7e-5,8e-5,9e-5,1e-4,2e-4,3e-4,4e-4,5e-4,6e-4,7e-4,8e-4,9e-4,1e-3,2e-3,3e-3,4e-3,5e-3,6e-3,7e-3,8e-3,9e-3,1e-2,2e-2,3e-2,4e-2,5e-2,6e-2,7e-2,8e-2,9e-2,0.1,0.2,0.3,0.4,0.5,0.6,0.7,0.8,0.9,1,2,3,4,5,6,7,8,9,10,20,30,40,50,60,70,80,90,100,200,300],
     "tickSize": {"condition": [{"test": "abs(log(datum.value)/LN10-round(log(datum.value)/LN10))<1e-6", "value": -11}, {"test": "abs(datum.value/pow(10,floor(log(datum.value)/LN10+1e-9))-5)<1e-6", "value": -8}], "value": -6}}}
  }},
 {"transform": [{"filter": "false"}], "mark": "point",
  "encoding": {
   "x": {"field": "P", "type": "quantitative", "scale": {"type": "log", "domain": [65.03, 1.367e10], "reverse": true, "nice": false},
    "axis": {"orient": "bottom", "ticks": false, "values": [1e2,1e4,1e6,1e8,1e10], "labelExpr": "'10'", "labelAngle": 270, "labelAlign": "left", "labelBaseline": "alphabetic", "labelPadding": 97, "labelFontSize": 26,
     "title": "Parameters", "titleAngle": 180, "titleFontSize": 32, "titleX": 549, "titleY": 147, "titleAlign": "center", "titleBaseline": "middle"}},
   "y": {"field": "E", "type": "quantitative", "scale": {"type": "log", "domain": [6.62e-12, 303.4], "nice": false},
    "axis": {"orient": "right", "ticks": false, "values": [1e-10,1e-8,1e-6,1e-4,1e-2,1,100], "labelExpr": "'10'", "labelAngle": 270, "labelAlign": "left", "labelBaseline": "alphabetic", "labelPadding": 55, "labelOffset": 12, "labelFontSize": 26,
     "title": "Incident Energy (MeV)", "titleAngle": 270, "titleFontSize": 32, "titleX": 102, "titleY": 727, "titleAlign": "center", "titleBaseline": "middle"}}
  }},
 {"transform": [{"filter": "false"}], "mark": "point",
  "encoding": {
   "x": {"field": "P", "type": "quantitative", "scale": {"type": "log", "domain": [65.03, 1.367e10], "reverse": true, "nice": false},
    "axis": {"orient": "bottom", "ticks": false, "title": null, "values": [1e2,1e4,1e6,1e8,1e10], "labelExpr": "datum.value==1e10?'10':datum.value==1e8?'8':datum.value==1e6?'6':datum.value==1e4?'4':'2'", "labelAngle": 270, "labelAlign": "left", "labelBaseline": "alphabetic", "labelPadding": 66, "labelOffset": -21, "labelFontSize": 26}},
   "y": {"field": "E", "type": "quantitative", "scale": {"type": "log", "domain": [6.62e-12, 303.4], "nice": false},
    "axis": {"orient": "right", "ticks": false, "title": null, "values": [1e-10,1e-8,1e-6,1e-4,1e-2,1,100], "labelExpr": "datum.value==100?'2':datum.value==1?'0':datum.value==1e-2?'-2':datum.value==1e-4?'-4':datum.value==1e-6?'-6':datum.value==1e-8?'-8':'-10'", "labelAngle": 270, "labelAlign": "left", "labelBaseline": "alphabetic", "labelPadding": 34, "labelOffset": -19, "labelFontSize": 26}}
  }},
 {"transform": [{"filter": "false"}], "mark": "point",
  "encoding": {
   "x": {"field": "P", "type": "quantitative", "scale": {"type": "log", "domain": [65.03, 1.367e10], "reverse": true, "nice": false},
    "axis": {"orient": "bottom", "ticks": false, "title": null, "values": [5e2,5e3,5e4,5e5,5e6,5e7,5e8,5e9], "labelExpr": "'5'", "labelAngle": 270, "labelAlign": "right", "labelBaseline": "middle", "labelPadding": 16, "labelOffset": -4, "labelFontSize": 20}},
   "y": {"field": "E", "type": "quantitative", "scale": {"type": "log", "domain": [6.62e-12, 303.4], "nice": false},
    "axis": {"orient": "right", "ticks": false, "title": null, "values": [46.3, 1.06e-11], "labelExpr": "datum.value>1?'51-Sb-124':'15'", "labelAngle": 270, "labelAlign": "center", "labelBaseline": "middle", "labelPadding": 102, "labelFontSize": 32}}
  }},
 {"transform": [{"filter": "false"}], "mark": "point",
  "encoding": {
   "x": {"field": "P", "type": "quantitative", "scale": {"type": "log", "domain": [65.03, 1.367e10], "reverse": true, "nice": false}, "axis": null},
   "y": {"field": "E", "type": "quantitative", "scale": {"type": "log", "domain": [6.62e-12, 303.4], "nice": false},
    "axis": {"orient": "left", "ticks": false, "title": null, "values": [42.2, 5.81e-5, 3.8e-11], "labelExpr": "datum.value>1?'51-Sb-124':(datum.value>1e-6?'Energy Release':'MAT 5136')", "labelAngle": 270, "labelAlign": "center", "labelBaseline": "middle", "labelPadding": 61, "labelFontSize": 32}}
  }},
 {"transform": [{"filter": "false"}], "mark": "point",
  "encoding": {
   "x": {"field": "P", "type": "quantitative", "scale": {"type": "log", "domain": [65.03, 1.367e10], "reverse": true, "nice": false}, "axis": null},
   "y": {"field": "E", "type": "quantitative", "scale": {"type": "log", "domain": [6.62e-12, 303.4], "nice": false},
    "axis": {"orient": "left", "ticks": false, "title": null, "values": [5.81e-5], "labelExpr": "'Parameters'", "labelAngle": 270, "labelAlign": "center", "labelBaseline": "middle", "labelPadding": 25, "labelFontSize": 32}}
  }},
 {"transform": [{"filter": "datum.c=='orange'"}], "mark": {"type": "line", "clip": true, "stroke": "#FF8000", "strokeWidth": 1.4},
  "encoding": {"x": {"field": "P", "type": "quantitative", "scale": {"type": "log", "domain": [65.03, 1.367e10], "reverse": true, "nice": false}, "axis": null}, "y": {"field": "E", "type": "quantitative", "scale": {"type": "log", "domain": [6.62e-12, 303.4], "nice": false}, "axis": null}, "detail": {"field": "s"}, "order": {"field": "E", "type": "quantitative"}}},
 {"transform": [{"filter": "datum.c=='green'"}], "mark": {"type": "line", "clip": true, "stroke": "#00C000", "strokeWidth": 1.5, "strokeDash": [20, 5]},
  "encoding": {"x": {"field": "P", "type": "quantitative", "scale": {"type": "log", "domain": [65.03, 1.367e10], "reverse": true, "nice": false}, "axis": null}, "y": {"field": "E", "type": "quantitative", "scale": {"type": "log", "domain": [6.62e-12, 303.4], "nice": false}, "axis": null}, "detail": {"field": "s"}, "order": {"field": "E", "type": "quantitative"}}},
 {"transform": [{"filter": "datum.c=='brown'"}], "mark": {"type": "line", "clip": true, "stroke": "#CC6600", "strokeWidth": 1.5, "strokeDash": [14, 5, 4, 5]},
  "encoding": {"x": {"field": "P", "type": "quantitative", "scale": {"type": "log", "domain": [65.03, 1.367e10], "reverse": true, "nice": false}, "axis": null}, "y": {"field": "E", "type": "quantitative", "scale": {"type": "log", "domain": [6.62e-12, 303.4], "nice": false}, "axis": null}, "detail": {"field": "s"}, "order": {"field": "E", "type": "quantitative"}}},
 {"transform": [{"filter": "datum.c=='bluelow'"}], "mark": {"type": "line", "clip": true, "stroke": "#0000FF", "strokeWidth": 1.5, "strokeDash": [14, 6]},
  "encoding": {"x": {"field": "P", "type": "quantitative", "scale": {"type": "log", "domain": [65.03, 1.367e10], "reverse": true, "nice": false}, "axis": null}, "y": {"field": "E", "type": "quantitative", "scale": {"type": "log", "domain": [6.62e-12, 303.4], "nice": false}, "axis": null}, "detail": {"field": "s"}, "order": {"field": "E", "type": "quantitative"}}},
 {"transform": [{"filter": "datum.c=='maglow'"}], "mark": {"type": "line", "clip": true, "stroke": "#E000E0", "strokeWidth": 1.5, "strokeDash": [16, 5]},
  "encoding": {"x": {"field": "P", "type": "quantitative", "scale": {"type": "log", "domain": [65.03, 1.367e10], "reverse": true, "nice": false}, "axis": null}, "y": {"field": "E", "type": "quantitative", "scale": {"type": "log", "domain": [6.62e-12, 303.4], "nice": false}, "axis": null}, "detail": {"field": "s"}, "order": {"field": "E", "type": "quantitative"}}},
 {"transform": [{"filter": "datum.c=='redlow'"}], "mark": {"type": "line", "clip": true, "stroke": "#FF0000", "strokeWidth": 1.5, "strokeDash": [6, 3]},
  "encoding": {"x": {"field": "P", "type": "quantitative", "scale": {"type": "log", "domain": [65.03, 1.367e10], "reverse": true, "nice": false}, "axis": null}, "y": {"field": "E", "type": "quantitative", "scale": {"type": "log", "domain": [6.62e-12, 303.4], "nice": false}, "axis": null}, "detail": {"field": "s"}, "order": {"field": "E", "type": "quantitative"}}},
 {"transform": [{"filter": "datum.c=='black'"}], "mark": {"type": "line", "clip": true, "stroke": "black", "strokeWidth": 1.5},
  "encoding": {"x": {"field": "P", "type": "quantitative", "scale": {"type": "log", "domain": [65.03, 1.367e10], "reverse": true, "nice": false}, "axis": null}, "y": {"field": "E", "type": "quantitative", "scale": {"type": "log", "domain": [6.62e-12, 303.4], "nice": false}, "axis": null}, "detail": {"field": "s"}, "order": {"field": "E", "type": "quantitative"}}},
 {"transform": [{"filter": "datum.c=='navy'"}], "mark": {"type": "line", "clip": true, "stroke": "#0A0A50", "strokeWidth": 1.5},
  "encoding": {"x": {"field": "P", "type": "quantitative", "scale": {"type": "log", "domain": [65.03, 1.367e10], "reverse": true, "nice": false}, "axis": null}, "y": {"field": "E", "type": "quantitative", "scale": {"type": "log", "domain": [6.62e-12, 303.4], "nice": false}, "axis": null}, "detail": {"field": "s"}, "order": {"field": "E", "type": "quantitative"}}},
 {"transform": [{"filter": "datum.c=='red'"}], "mark": {"type": "line", "clip": true, "stroke": "#FF0000", "strokeWidth": 1.5, "strokeDash": [6, 3]},
  "encoding": {"x": {"field": "P", "type": "quantitative", "scale": {"type": "log", "domain": [65.03, 1.367e10], "reverse": true, "nice": false}, "axis": null}, "y": {"field": "E", "type": "quantitative", "scale": {"type": "log", "domain": [6.62e-12, 303.4], "nice": false}, "axis": null}, "detail": {"field": "s"}, "order": {"field": "E", "type": "quantitative"}}},
 {"transform": [{"filter": "datum.c=='magenta'"}], "mark": {"type": "line", "clip": true, "stroke": "#E000E0", "strokeWidth": 1.5, "strokeDash": [16, 5]},
  "encoding": {"x": {"field": "P", "type": "quantitative", "scale": {"type": "log", "domain": [65.03, 1.367e10], "reverse": true, "nice": false}, "axis": null}, "y": {"field": "E", "type": "quantitative", "scale": {"type": "log", "domain": [6.62e-12, 303.4], "nice": false}, "axis": null}, "detail": {"field": "s"}, "order": {"field": "E", "type": "quantitative"}}},
 {"transform": [{"filter": "datum.c=='blue'"}], "mark": {"type": "line", "clip": true, "stroke": "#0000FF", "strokeWidth": 1.5, "strokeDash": [14, 6]},
  "encoding": {"x": {"field": "P", "type": "quantitative", "scale": {"type": "log", "domain": [65.03, 1.367e10], "reverse": true, "nice": false}, "axis": null}, "y": {"field": "E", "type": "quantitative", "scale": {"type": "log", "domain": [6.62e-12, 303.4], "nice": false}, "axis": null}, "detail": {"field": "s"}, "order": {"field": "E", "type": "quantitative"}}}
],
"resolve": {"axis": {"x": "independent", "y": "independent"}}
}
